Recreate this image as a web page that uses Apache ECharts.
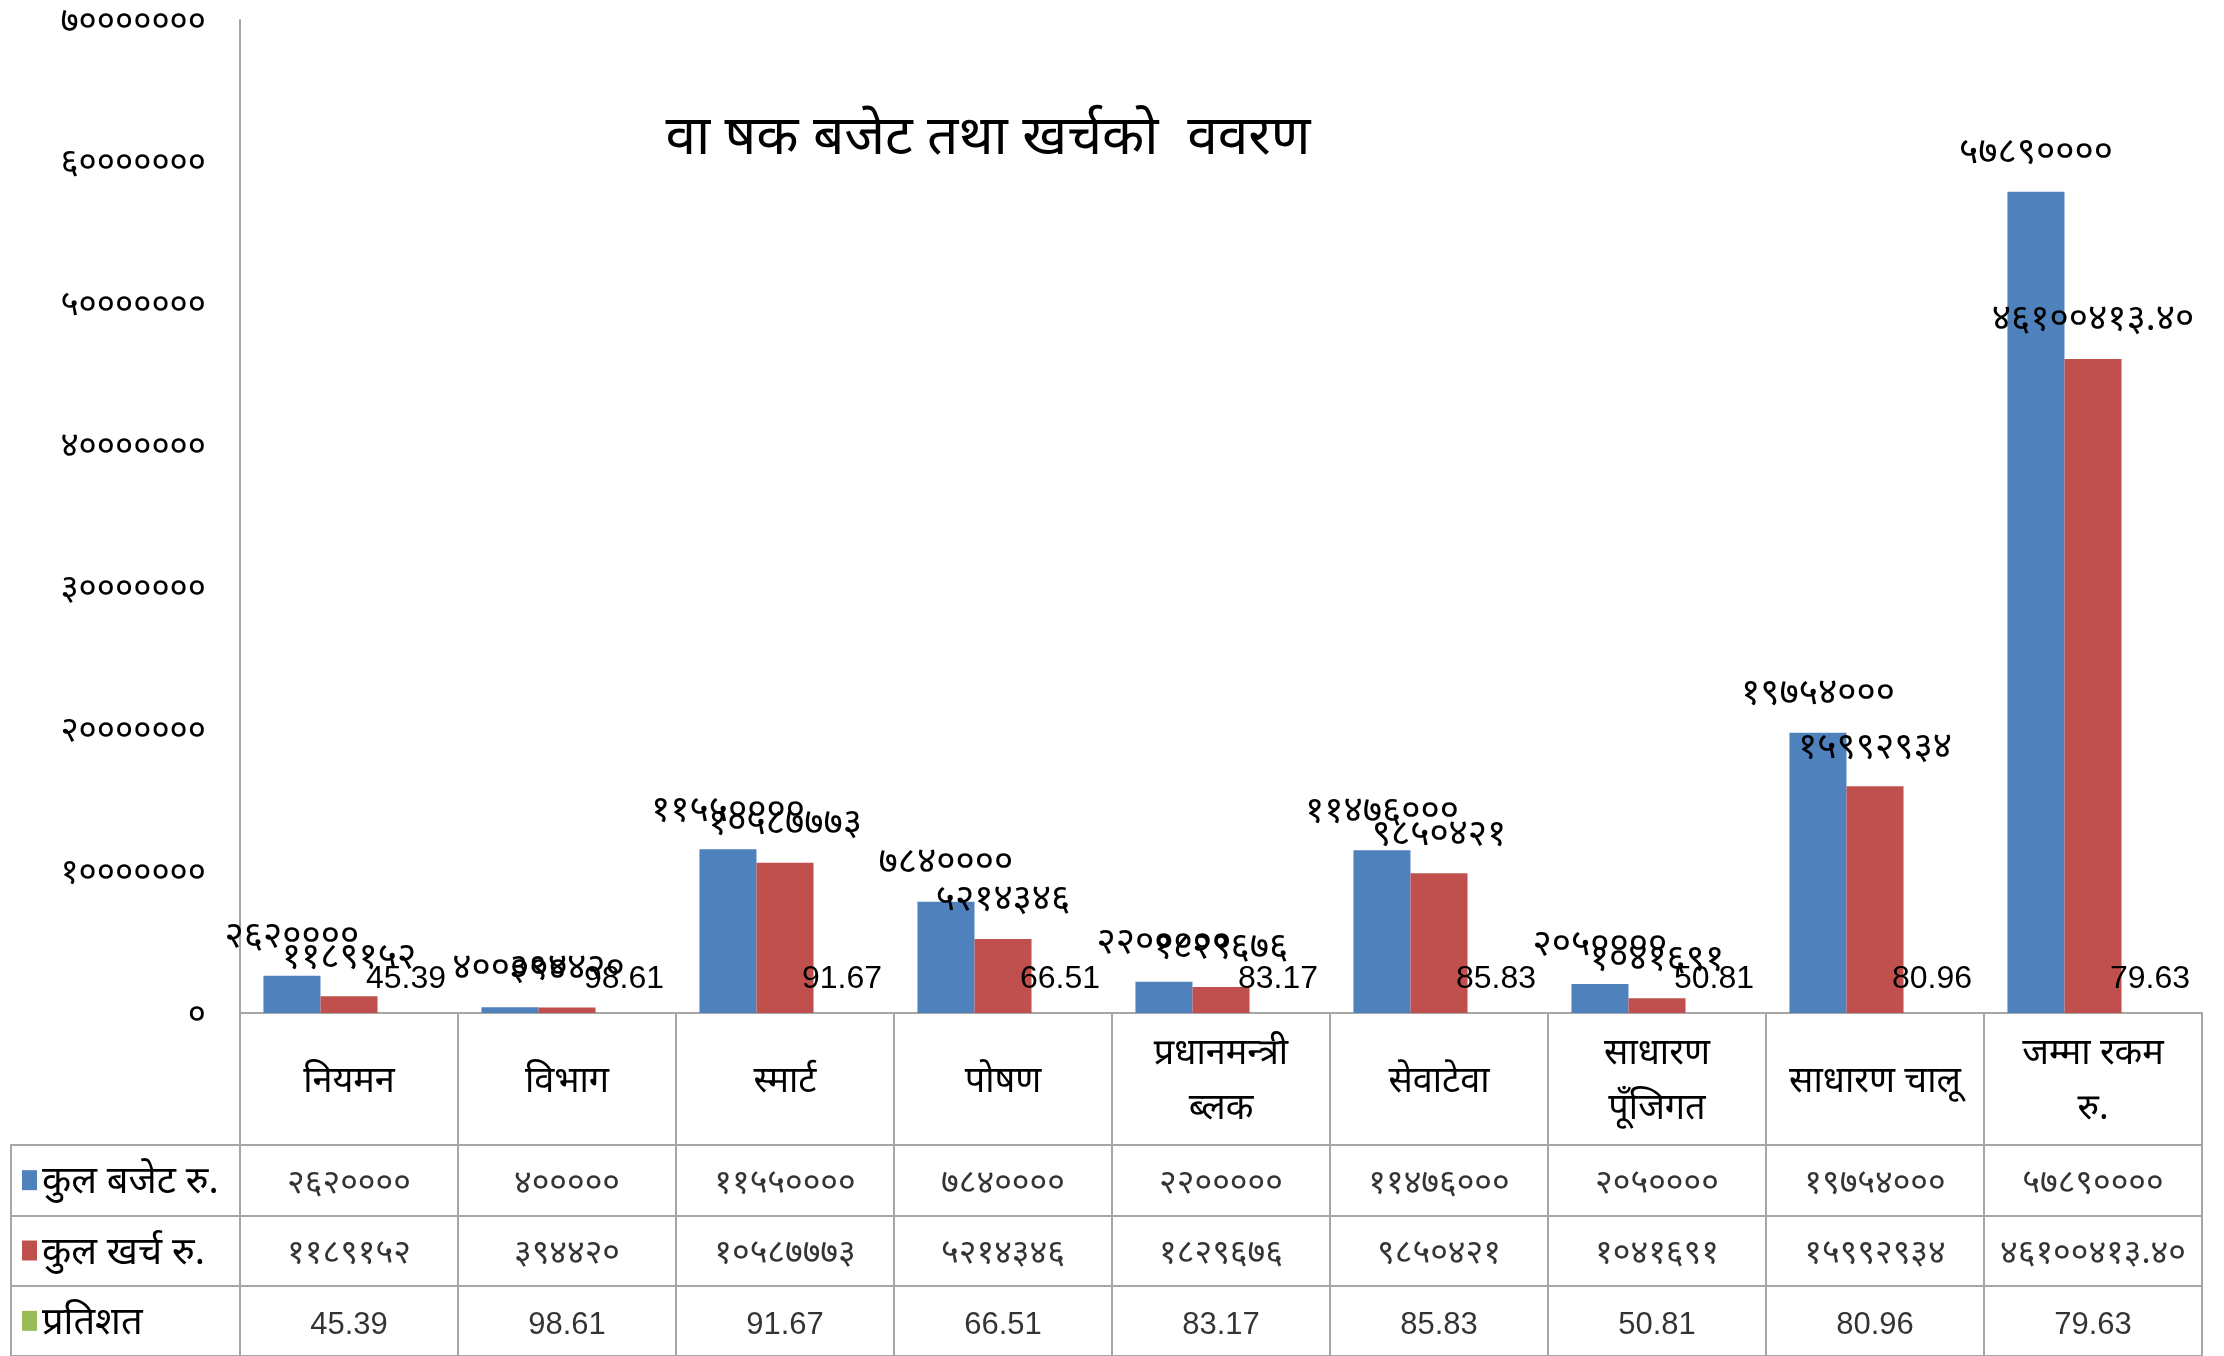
<!DOCTYPE html>
<html><head><meta charset="utf-8">
<script src="https://cdn.jsdelivr.net/npm/echarts@6/dist/echarts.min.js"></script>
<style>html,body{margin:0;padding:0;background:#fff}#c{width:2224px;height:1356px}</style>
</head><body><div id="c"></div>
<script>
const categories = ['नियमन','विभाग','स्मार्ट','पोषण','प्रधानमन्त्री\nब्लक','सेवाटेवा','साधारण\nपूँजिगत','साधारण चालू','जम्मा रकम\nरु.'];
const budget = [2620000, 400000, 11550000, 7840000, 2200000, 11476000, 2050000, 19754000, 57890000];
const expense = [1189152, 394420, 10587773, 5214346, 1829676, 9850421, 1041691, 15992934, 46100413.40];
const percent = [45.39, 98.61, 91.67, 66.51, 83.17, 85.83, 50.81, 80.96, 79.63];
const seriesNames = ['कुल बजेट रु.', 'कुल खर्च रु.', 'प्रतिशत'];
const titleText = 'वा षक बजेट तथा खर्चको  ववरण';
const yMax = 70000000, yStep = 10000000;

const DEV = '०१२३४५६७८९';
function toDev(v){
  const s = Number.isInteger(v) ? String(v) : v.toFixed(2);
  return s.replace(/[0-9]/g, d => DEV[d]);
}
const FD = 'Noto Sans Devanagari, Lohit Devanagari, Noto Sans, sans-serif';
const FL = 'Liberation Sans Narrow, Liberation Sans, sans-serif';
const colors = ['#4F81BD', '#C0504D', '#9BBB59'];
const lineC = '#A6A6A6';

const cellsDev = [], cellsPct = [];
categories.forEach((c, i) => {
  cellsDev.push([i, 0, toDev(budget[i])]);
  cellsDev.push([i, 1, toDev(expense[i])]);
  cellsPct.push([i, 2, percent[i].toFixed(2)]);
});

const chart = echarts.init(document.getElementById('c'), null, {renderer:'canvas'});
chart.setOption({
  animation: false,
  backgroundColor: '#fff',
  title: { text: titleText, left: 983, top: 111, textAlign: 'center',
    textStyle: { fontFamily: FD, fontSize: 55, fontWeight: 'normal', color: '#000' } },
  grid: [
    { left: 240, right: 22, top: 20, bottom: 343 },
    { left: 240, right: 22, top: 1145, height: 213 }
  ],
  xAxis: [
    { type: 'category', gridIndex: 0, data: categories,
      axisLine: { lineStyle: { color: lineC, width: 2 } },
      axisTick: { show: true, length: 132, lineStyle: { color: lineC, width: 2 } },
      axisLabel: { interval: 0, margin: 72, verticalAlign: 'middle', lineHeight: 55,
        fontFamily: FD, fontSize: 36, color: '#000' } },
    { type: 'category', gridIndex: 1, data: categories, position: 'top',
      axisLine: { show: true, lineStyle: { color: lineC, width: 2 } },
      axisTick: { show: false }, axisLabel: { show: false },
      splitLine: { show: true, interval: 0, lineStyle: { color: lineC, width: 2 } } }
  ],
  yAxis: [
    { type: 'value', gridIndex: 0, min: 0, max: yMax, interval: yStep,
      axisLine: { show: true, lineStyle: { color: lineC, width: 2 } },
      axisTick: { show: false }, splitLine: { show: false },
      axisLabel: { margin: 34, formatter: v => '{a|' + toDev(v) + '}',
        rich: { a: { fontFamily: FD, fontSize: 35, color: '#000', padding: [10, 0, 0, 0] } } } },
    { type: 'category', gridIndex: 1, inverse: true, data: seriesNames,
      axisLine: { show: true, lineStyle: { color: lineC, width: 2 } },
      axisTick: { show: true, length: 229, lineStyle: { color: lineC, width: 2 } },
      splitLine: { show: true, lineStyle: { color: lineC, width: 2 } },
      axisLabel: { align: 'left', margin: 218,
        formatter: (v, i) => '{s' + i + '|}{t|' + v + '}',
        rich: {
          s0: { width: 15, height: 20, backgroundColor: colors[0], verticalAlign: 'middle' },
          s1: { width: 15, height: 20, backgroundColor: colors[1], verticalAlign: 'middle' },
          s2: { width: 15, height: 20, backgroundColor: colors[2], verticalAlign: 'middle' },
          t: { fontFamily: FD, fontSize: 38, color: '#000', padding: [12,0,0,5] }
        } } },
    { type: 'category', gridIndex: 1, inverse: true, data: seriesNames, position: 'left', offset: 229,
      axisLine: { show: true, lineStyle: { color: lineC, width: 2 } },
      axisTick: { show: false }, axisLabel: { show: false } },
    { type: 'category', gridIndex: 1, inverse: true, data: seriesNames, position: 'right',
      axisLine: { show: true, lineStyle: { color: lineC, width: 2 } },
      axisTick: { show: false }, axisLabel: { show: false } }
  ],
  series: [
    { type: 'bar', name: seriesNames[0], xAxisIndex: 0, yAxisIndex: 0, data: budget,
      itemStyle: { color: colors[0] }, barGap: '0%', barCategoryGap: '21.5%',
      label: { show: true, position: 'top', distance: 17, fontFamily: FD, fontSize: 37, color: '#000',
        formatter: p => toDev(p.value) } },
    { type: 'bar', name: seriesNames[1], xAxisIndex: 0, yAxisIndex: 0, data: expense,
      itemStyle: { color: colors[1] },
      label: { show: true, position: 'top', distance: 17, fontFamily: FD, fontSize: 37, color: '#000',
        formatter: p => toDev(p.value) } },
    { type: 'bar', name: seriesNames[2], xAxisIndex: 0, yAxisIndex: 0, data: percent,
      itemStyle: { color: colors[2] },
      label: { show: true, position: 'top', distance: 18, fontFamily: FL, fontSize: 32, color: '#000',
        formatter: p => p.value.toFixed(2) } },
    { type: 'scatter', xAxisIndex: 1, yAxisIndex: 1, data: cellsDev, symbolSize: 0,
      label: { show: true, position: 'inside', offset: [0, 6], fontFamily: FD, fontSize: 34, color: '#000',
        formatter: p => p.value[2] } },
    { type: 'scatter', xAxisIndex: 1, yAxisIndex: 1, data: cellsPct, symbolSize: 0,
      label: { show: true, position: 'inside', offset: [0, 5], fontFamily: FL, fontSize: 31, color: '#000',
        formatter: p => p.value[2] } }
  ]
});
</script></body></html>
